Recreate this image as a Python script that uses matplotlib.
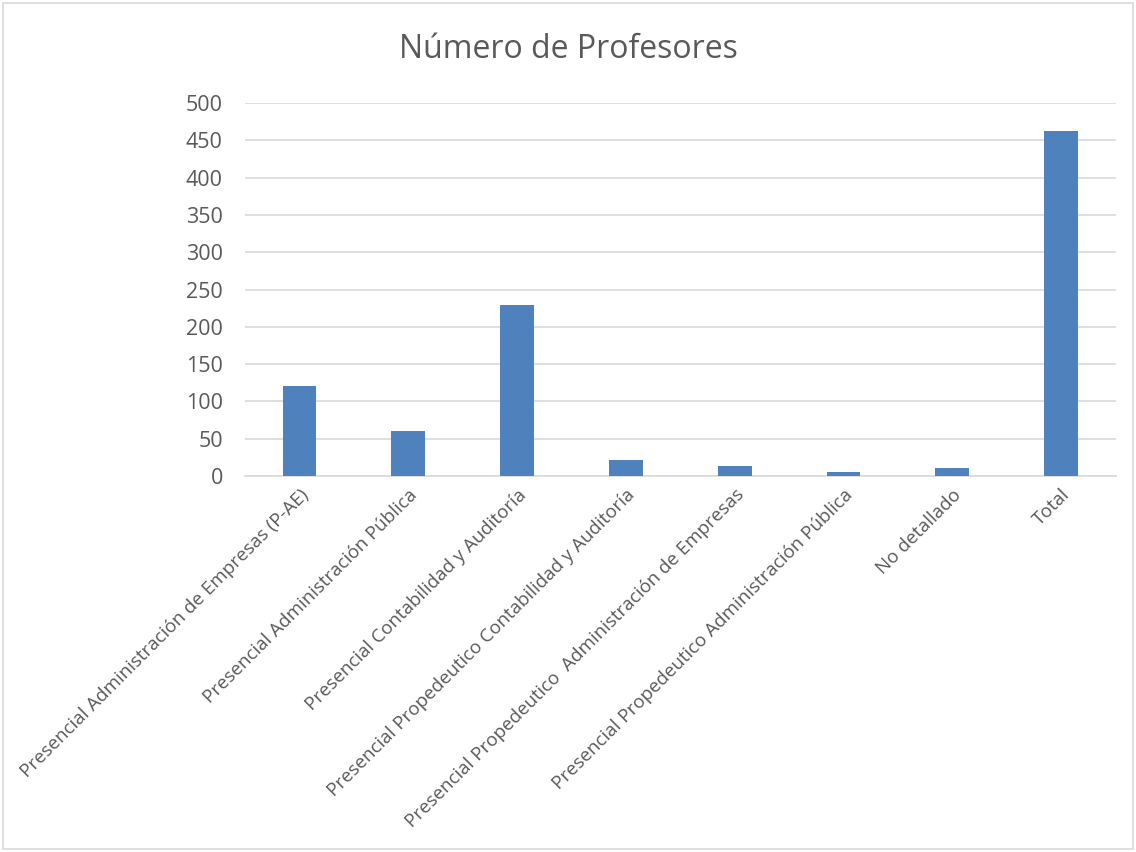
import matplotlib
matplotlib.use("Agg")
from matplotlib import pyplot as plt
from matplotlib.patches import Rectangle

categorias = [
    "Presencial Administración de Empresas (P-AE)",
    "Presencial Administración Pública",
    "Presencial Contabilidad y Auditoría",
    "Presencial Propedeutico Contabilidad y Auditoría",
    "Presencial Propedeutico  Administración de Empresas",
    "Presencial Propedeutico Administración Pública",
    "No detallado",
    "Total",
]
profesores = [121, 60, 229, 21, 13, 5, 11, 463]
ticks_y = [0, 50, 100, 150, 200, 250, 300, 350, 400, 450, 500]

plt.rcParams['font.family'] = ['Open Sans', 'DejaVu Sans']
gris = "#595959"

fig = plt.figure(figsize=(11.36, 8.52), dpi=100)
ax = fig.add_axes([0.2157, 0.4413, 0.7663, 0.4377])

x = list(range(len(categorias)))
ax.bar(x, profesores, width=0.31, color="#4f81bd", zorder=3)

ax.set_xlim(-0.5, len(categorias) - 0.5)
ax.set_ylim(0, 500)
ax.set_yticks(ticks_y)
ax.set_yticklabels([str(t) for t in ticks_y], fontsize=15.5, color=gris)
ax.grid(axis="y", color="#d9d9d9", linewidth=1.2, zorder=0)
ax.tick_params(axis="y", length=0, pad=16)
ax.tick_params(axis="x", length=0, pad=7)

ax.set_xticks(x)
ax.set_xticklabels(categorias, rotation=45, ha="right", rotation_mode="anchor",
                   fontsize=13.5, color=gris)

for lado in ["top", "right", "left"]:
    ax.spines[lado].set_visible(False)
ax.spines["bottom"].set_color("#d9d9d9")
ax.spines["bottom"].set_linewidth(1.2)

fig.text(0.5, 0.942, "Número de Profesores", ha="center", va="center",
         fontsize=23, color=gris)

# marco del gráfico
fig.patches.append(Rectangle((0.003, 0.003), 0.994, 0.994, transform=fig.transFigure,
                             fill=False, edgecolor="#d9d9d9", linewidth=1.2))

fig.savefig("out.png", dpi=100)
